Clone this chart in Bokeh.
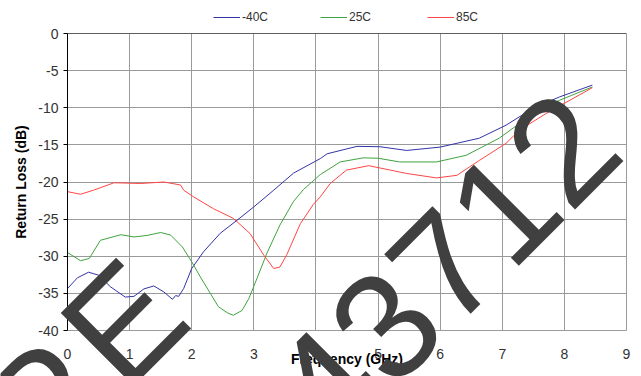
from bokeh.plotting import figure
from bokeh.models import Legend, LegendItem, Label, Span, FixedTicker
from bokeh.embed import file_html
from bokeh.resources import INLINE

# Return loss vs frequency at three temperatures
freq_m40 = [0, 0.16, 0.34, 0.5, 0.69, 0.93, 1.07, 1.23, 1.39, 1.55, 1.69, 1.74, 1.79,
            1.87, 2.0, 2.19, 2.46, 2.73, 3.0, 3.32, 3.64, 4.07, 4.18, 4.66, 5.03,
            5.46, 6.0, 6.63, 7.06, 7.49, 7.92, 8.45]
rl_m40 = [-34.35, -32.9, -32.15, -32.55, -34.1, -35.5, -35.4, -34.4, -34.0, -34.8,
          -35.8, -35.3, -35.4, -34.35, -31.65, -29.4, -26.9, -25.15, -23.35, -21.1,
          -18.8, -16.85, -16.2, -15.2, -15.25, -15.75, -15.3, -14.1, -12.35, -10.1,
          -8.55, -6.95]

freq_25 = [0, 0.21, 0.35, 0.53, 0.86, 1.07, 1.28, 1.5, 1.66, 1.85, 2.0, 2.14, 2.3,
           2.43, 2.57, 2.67, 2.81, 2.92, 3.05, 3.21, 3.42, 3.64, 3.8, 4.07, 4.39,
           4.76, 5.0, 5.35, 5.94, 6.42, 6.95, 7.28, 7.6, 7.92, 8.45]
rl_25 = [-29.5, -30.6, -30.3, -27.85, -27.1, -27.4, -27.2, -26.8, -27.15, -28.75,
         -30.75, -32.8, -35.0, -36.8, -37.6, -37.95, -37.3, -35.7, -33.0, -29.6,
         -25.8, -22.6, -21.0, -19.0, -17.3, -16.75, -16.8, -17.3, -17.3, -16.4,
         -14.1, -12.1, -10.1, -9.0, -7.2]

freq_85 = [0, 0.21, 0.42, 0.75, 1.18, 1.55, 1.82, 1.87, 2.03, 2.35, 2.67, 2.94, 3.16,
           3.32, 3.42, 3.53, 3.75, 3.96, 4.07, 4.23, 4.49, 4.85, 5.46, 5.94, 6.27,
           6.63, 7.06, 7.28, 7.7, 8.45]
rl_85 = [-21.3, -21.65, -21.1, -20.1, -20.2, -20.0, -20.4, -21.1, -22.0, -23.6,
         -24.9, -26.95, -29.85, -31.65, -31.45, -29.8, -25.6, -23.0, -22.0, -20.2,
         -18.4, -17.8, -18.85, -19.45, -19.1, -17.1, -14.8, -13.0, -10.8, -7.3]

series_names = ["-40C", "25C", "85C"]
series_colors = ["#3333a6", "#3fa33f", "#ff4545"]

x_ticks = [0, 1, 2, 3, 4, 5, 6, 7, 8, 9]
y_ticks = [0, -5, -10, -15, -20, -25, -30, -35, -40]

# stamp glyphs, anchored in page pixels (x from left, y from top)
stamp_parts = ["P", "E", "43712"]
stamp_x = [43, 123, 444]
stamp_y = [402, 322, 266]

FONT = "Liberation Sans"
W, H = 641, 376
NAN = float("nan")

p = figure(width=W, height=H, x_range=(0, 9), y_range=(-40, 0),
           output_backend="svg", toolbar_location=None,
           min_border_left=67, min_border_right=15,
           min_border_top=33, min_border_bottom=46)
p.background_fill_color = "white"
p.border_fill_color = "white"
p.outline_line_color = "#9a9a9a"

# axes
p.xaxis.ticker = FixedTicker(ticks=x_ticks)
p.yaxis.ticker = FixedTicker(ticks=y_ticks)
p.yaxis.major_label_overrides = {t: str(t) for t in y_ticks}
p.xaxis.major_label_overrides = {t: str(t) for t in x_ticks}
for ax in (p.xaxis, p.yaxis):
    ax.major_label_text_font = FONT
    ax.major_label_text_font_size = "14px"
    ax.major_label_text_color = "#333333"
    ax.minor_tick_line_color = None
    ax.axis_label_text_font = FONT
    ax.axis_label_text_font_size = "14px"
    ax.axis_label_text_font_style = "bold"
    ax.axis_label_text_color = "black"
p.xaxis.axis_line_color = None
p.xaxis.major_tick_line_color = None
p.xaxis.major_label_standoff = 12
p.xaxis.axis_label = "Frequency (GHz)"
p.xaxis.axis_label_standoff = -11
p.yaxis.axis_line_color = "black"
p.yaxis.major_tick_line_color = "black"
p.yaxis.major_tick_out = 4
p.yaxis.major_tick_in = 0
p.yaxis.major_label_standoff = 5
p.yaxis.axis_label = "Return Loss (dB)"
p.yaxis.axis_label_standoff = 6

p.xgrid.grid_line_color = "#9a9a9a"
p.ygrid.grid_line_color = "#9a9a9a"

# dark top border of the plot area
p.add_layout(Span(location=0, dimension="width", line_color="#222222", line_width=1))

series = [(freq_m40, rl_m40), (freq_25, rl_25), (freq_85, rl_85)]
for (fx, fy), c in zip(series, series_colors):
    p.line(fx, fy, line_color=c, line_width=1)

# transparent overlay canvas spanning the whole chart: legend strip and stamp
ov = figure(width=W, height=H, x_range=(0, W), y_range=(H, 0),
            output_backend="svg", toolbar_location=None,
            x_axis_type=None, y_axis_type=None,
            min_border=0, min_border_left=0, min_border_right=0,
            min_border_top=0, min_border_bottom=0)
ov.grid.visible = False
ov.outline_line_color = None
ov.background_fill_alpha = 0
ov.border_fill_alpha = 0
ov.styles = {"position": "absolute", "left": "0px", "top": "0px",
             "z-index": "2", "pointer-events": "none"}

# legend keys: line renderers with no drawable points
keys = [ov.line([NAN], [NAN], line_color=c, line_width=1) for c in series_colors]
legend = Legend(items=[LegendItem(label=n, renderers=[k])
                       for n, k in zip(series_names, keys)],
                orientation="horizontal", location=(213, 349),
                glyph_width=27, glyph_height=20, label_height=20, label_width=60,
                label_standoff=2, spacing=18, padding=0, margin=0,
                border_line_color=None, background_fill_alpha=0,
                label_text_font=FONT, label_text_font_size="12px",
                label_text_color="#333333")
ov.add_layout(legend, "center")

for txt, sx, sy in zip(stamp_parts, stamp_x, stamp_y):
    ov.add_layout(Label(x=sx, y=sy, text=txt, angle=45, angle_units="deg",
                        text_align="center", text_baseline="middle",
                        text_font=FONT, text_font_size="150px",
                        text_color="#404040"))

open("out.html", "w").write(file_html([p, ov], INLINE))
